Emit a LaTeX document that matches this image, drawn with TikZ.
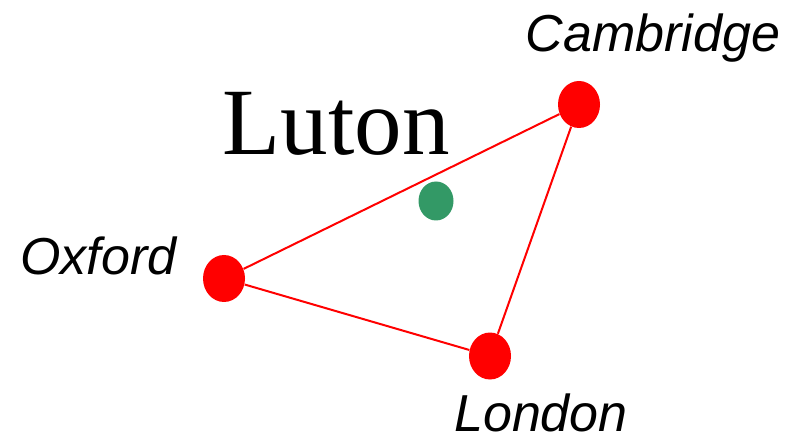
\documentclass[tikz,border=0pt]{standalone}
\usepackage{fontspec}
\setmainfont{Liberation Serif}
\setsansfont{Liberation Sans}
\usetikzlibrary{shapes.geometric}
\definecolor{townred}{RGB}{255,0,0}
\definecolor{lutongreen}{RGB}{51,153,102}
\tikzset{
  town/.style={ellipse,fill=townred,inner sep=0pt,minimum width=21pt,minimum height=23.5pt},
  townlabel/.style={anchor=base,inner sep=0pt,font=\fontsize{26}{30}\selectfont\sffamily\itshape},
  road/.style={townred,line width=1pt}
}
\begin{document}
\begin{tikzpicture}[x=0.5pt,y=-0.5pt]
  \useasboundingbox (0,0) rectangle (795,437);
  % towns
  \node[town] (oxford) at (224,278.5) {};
  \node[town] (cambridge) at (579,104.5) {};
  \node[town] (london) at (490,356) {};
  \node[ellipse,fill=lutongreen,inner sep=0pt,minimum width=17.5pt,minimum height=19.5pt] (luton) at (436,201) {};
  % roads
  \draw[road] (oxford) -- (cambridge);
  \draw[road] (cambridge) -- (london);
  \draw[road] (london) -- (oxford);
  % labels
  \node[townlabel] (oxfordlabel) at (98.5,275) {Oxford};
  \node[townlabel] (cambridgelabel) at (653,52) {Cambridge};
  \node[townlabel] (londonlabel) at (541,431) {London};
  \node[anchor=base,inner sep=0pt,font=\fontsize{47.5}{56}\selectfont] (lutonlabel) at (336,155) {Luton};
\end{tikzpicture}
\end{document}
